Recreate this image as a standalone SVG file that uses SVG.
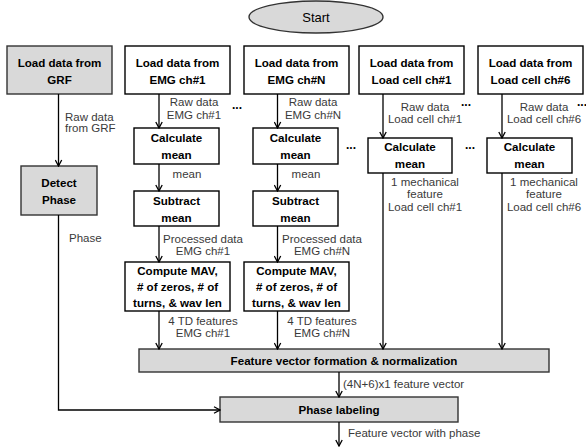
<svg xmlns="http://www.w3.org/2000/svg" width="586" height="448" viewBox="0 0 586 448">
<defs>
<marker id="arr" markerWidth="8" markerHeight="8" refX="7" refY="4" orient="auto" markerUnits="userSpaceOnUse">
<path d="M1,0.8 L7,4 L1,7.2" fill="none" stroke="#000" stroke-width="1.3"/>
</marker>
<style>
.box{fill:#fff;stroke:#000;stroke-width:1.4}
.gbox{fill:#d9d9d9;stroke:#333;stroke-width:1.4}
.t{font-family:"Liberation Sans",Arial,sans-serif;font-size:11.6px;font-weight:bold;fill:#000;text-anchor:middle}
.l{font-family:"Liberation Sans",Arial,sans-serif;font-size:11.5px;fill:#3a3a3a;text-anchor:middle}
.ll{font-family:"Liberation Sans",Arial,sans-serif;font-size:11.5px;fill:#3a3a3a;text-anchor:start}
.d{font-family:"Liberation Sans",Arial,sans-serif;font-size:12px;font-weight:bold;fill:#000;text-anchor:middle}
.c{fill:none;stroke:#000;stroke-width:1.3}
</style>
</defs>
<g id="start">
<ellipse cx="316" cy="17" rx="67" ry="16" fill="#d9d9d9" stroke="#333" stroke-width="1.4"/>
<text x="316" y="22" style="font-family:'Liberation Sans',Arial,sans-serif;font-size:13px;fill:#000" text-anchor="middle">Start</text>
</g>
<g id="load-grf">
<rect class="gbox" x="7" y="46" width="105" height="48"/>
<text class="t" x="59.5" y="67">Load data from</text>
<text class="t" x="59.5" y="84">GRF</text>
</g>
<g id="detect-phase">
<rect class="gbox" x="21" y="166" width="76" height="49"/>
<text class="t" x="59" y="187">Detect</text>
<text class="t" x="59" y="204">Phase</text>
</g>
<g id="load-emg1">
<rect class="box" x="125" y="46" width="105" height="48"/>
<text class="t" x="177.5" y="67">Load data from</text>
<text class="t" x="177.5" y="84">EMG ch#1</text>
</g>
<g id="load-emgN">
<rect class="box" x="244" y="46" width="105" height="48"/>
<text class="t" x="296.5" y="67">Load data from</text>
<text class="t" x="296.5" y="84">EMG ch#N</text>
</g>
<g id="load-lc1">
<rect class="box" x="359" y="46" width="105" height="48"/>
<text class="t" x="411.5" y="67">Load data from</text>
<text class="t" x="411.5" y="84">Load cell ch#1</text>
</g>
<g id="load-lc6">
<rect class="box" x="478" y="46" width="105" height="48"/>
<text class="t" x="530.5" y="67">Load data from</text>
<text class="t" x="530.5" y="84">Load cell ch#6</text>
</g>
<g id="calc-emg1">
<rect class="box" x="134" y="128" width="85" height="36"/>
<text class="t" x="176.5" y="142">Calculate</text>
<text class="t" x="176.5" y="159">mean</text>
</g>
<g id="calc-emgN">
<rect class="box" x="253" y="128" width="85" height="36"/>
<text class="t" x="295.5" y="142">Calculate</text>
<text class="t" x="295.5" y="159">mean</text>
</g>
<g id="calc-lc1">
<rect class="box" x="368" y="138" width="84" height="35"/>
<text class="t" x="410" y="151">Calculate</text>
<text class="t" x="410" y="168">mean</text>
</g>
<g id="calc-lc6">
<rect class="box" x="487" y="138" width="85" height="35"/>
<text class="t" x="529.5" y="151">Calculate</text>
<text class="t" x="529.5" y="168">mean</text>
</g>
<g id="sub-emg1">
<rect class="box" x="134" y="191" width="85" height="35"/>
<text class="t" x="176.5" y="205">Subtract</text>
<text class="t" x="176.5" y="222">mean</text>
</g>
<g id="sub-emgN">
<rect class="box" x="253" y="191" width="85" height="35"/>
<text class="t" x="295.5" y="205">Subtract</text>
<text class="t" x="295.5" y="222">mean</text>
</g>
<g id="mav-emg1">
<rect class="box" x="125" y="262" width="105" height="49"/>
<text class="t" x="177.5" y="275">Compute MAV,</text>
<text class="t" x="177.5" y="291"># of zeros, # of</text>
<text class="t" x="177.5" y="307">turns, &amp; wav len</text>
</g>
<g id="mav-emgN">
<rect class="box" x="244" y="262" width="105" height="49"/>
<text class="t" x="296.5" y="275">Compute MAV,</text>
<text class="t" x="296.5" y="291"># of zeros, # of</text>
<text class="t" x="296.5" y="307">turns, &amp; wav len</text>
</g>
<g id="feature-vector">
<rect class="gbox" x="139" y="349" width="410" height="23"/>
<text class="t" x="344" y="365">Feature vector formation &amp; normalization</text>
</g>
<g id="phase-labeling">
<rect class="gbox" x="220" y="397" width="238" height="25"/>
<text class="t" x="339" y="414">Phase labeling</text>
</g>
<g id="connectors">
<line class="c" x1="58.5" y1="94" x2="58.5" y2="166" marker-end="url(#arr)"/>
<polyline class="c" points="58.5,215 58.5,410 220,410" marker-end="url(#arr)"/>
<line class="c" x1="159" y1="94" x2="159" y2="128" marker-end="url(#arr)"/>
<line class="c" x1="159" y1="164" x2="159" y2="191" marker-end="url(#arr)"/>
<line class="c" x1="159" y1="226" x2="159" y2="262" marker-end="url(#arr)"/>
<line class="c" x1="159" y1="311" x2="159" y2="349" marker-end="url(#arr)"/>
<line class="c" x1="277.5" y1="94" x2="277.5" y2="128" marker-end="url(#arr)"/>
<line class="c" x1="277.5" y1="164" x2="277.5" y2="191" marker-end="url(#arr)"/>
<line class="c" x1="277.5" y1="226" x2="277.5" y2="262" marker-end="url(#arr)"/>
<line class="c" x1="277.5" y1="311" x2="277.5" y2="349" marker-end="url(#arr)"/>
<line class="c" x1="383" y1="94" x2="383" y2="138" marker-end="url(#arr)"/>
<line class="c" x1="383" y1="173" x2="383" y2="349" marker-end="url(#arr)"/>
<line class="c" x1="502" y1="94" x2="502" y2="138" marker-end="url(#arr)"/>
<line class="c" x1="502" y1="173" x2="502" y2="349" marker-end="url(#arr)"/>
<line class="c" x1="339" y1="372" x2="339" y2="397" marker-end="url(#arr)"/>
<line class="c" x1="339" y1="422" x2="339" y2="446" marker-end="url(#arr)"/>
</g>
<g id="labels">
<text class="ll" x="65" y="121">Raw data</text>
<text class="ll" x="65" y="132">from GRF</text>
<text class="ll" x="69" y="242">Phase</text>
<text class="l" x="194" y="106">Raw data</text>
<text class="l" x="194" y="119">EMG ch#1</text>
<text class="l" x="313" y="106">Raw data</text>
<text class="l" x="313" y="119">EMG ch#N</text>
<text class="l" x="187" y="178">mean</text>
<text class="l" x="306" y="178">mean</text>
<text class="l" x="203" y="243">Processed data</text>
<text class="l" x="203" y="255">EMG ch#1</text>
<text class="l" x="322" y="243">Processed data</text>
<text class="l" x="322" y="255">EMG ch#N</text>
<text class="l" x="203" y="325">4 TD features</text>
<text class="l" x="203" y="337">EMG ch#1</text>
<text class="l" x="322" y="325">4 TD features</text>
<text class="l" x="322" y="337">EMG ch#N</text>
<text class="l" x="425" y="111">Raw data</text>
<text class="l" x="425" y="123">Load cell ch#1</text>
<text class="l" x="544" y="111">Raw data</text>
<text class="l" x="544" y="123">Load cell ch#6</text>
<text class="l" x="425" y="186">1 mechanical</text>
<text class="l" x="425" y="198">feature</text>
<text class="l" x="425" y="211">Load cell ch#1</text>
<text class="l" x="544" y="186">1 mechanical</text>
<text class="l" x="544" y="198">feature</text>
<text class="l" x="544" y="211">Load cell ch#6</text>
<text class="ll" x="343" y="388">(4N+6)x1 feature vector</text>
<text class="ll" x="348" y="437">Feature vector with phase</text>
<text class="d" x="237" y="109">...</text>
<text class="d" x="351" y="149">...</text>
<text class="d" x="470" y="149">...</text>
<text class="d" x="466" y="106">...</text>
<text class="d" x="582" y="106">...</text>
</g>
</svg>
